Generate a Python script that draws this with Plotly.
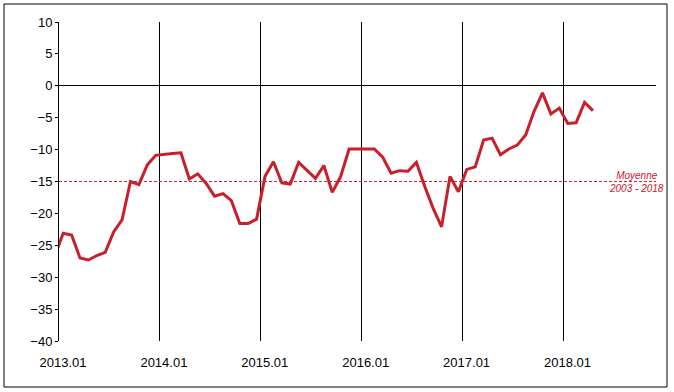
import plotly.graph_objects as go

# ---------------- data ----------------
months = ["2012.12"] + [f"{y}.{m:02d}" for y in range(2013, 2019) for m in range(1, 13)]
months = months[:months.index("2018.04") + 1]

values = [
    -26.7,                                                             # 2012.12
    -23.1, -23.4, -27.0, -27.3, -26.6, -26.1, -22.9, -21.0, -15.0, -15.5, -12.4, -10.9,  # 2013
    -10.7, -10.6, -10.5, -14.6, -13.8, -15.3, -17.3, -16.9, -18.0, -21.6, -21.6, -20.9,  # 2014
    -14.2, -11.9, -15.2, -15.4, -12.0, -13.2, -14.5, -12.5, -16.7, -14.2, -9.9, -9.9,    # 2015
    -9.9, -9.9, -11.2, -13.7, -13.3, -13.4, -12.0, -15.8, -19.2, -22.1, -14.2, -16.6,    # 2016
    -13.1, -12.7, -8.5, -8.2, -10.8, -9.9, -9.3, -7.7, -4.0, -1.1, -4.4, -3.5,          # 2017
    -5.9, -5.8, -2.6, -3.9,                                            # 2018
]

average = -15.0
average_label = "Moyenne<br>2003 - 2018"
year_ticks = ["2013.01", "2014.01", "2015.01", "2016.01", "2017.01", "2018.01"]
axis_first, axis_last = "2013.01", "2018.11"
y_ticks = [10, 5, 0, -5, -10, -15, -20, -25, -30, -35, -40]

# ---------------- positions on a category scale ----------------
origin = months.index(axis_first)
x_pos = [i - origin for i in range(len(months))]
n_axis = (int(axis_last[:4]) - int(axis_first[:4])) * 12 + int(axis_last[5:]) - int(axis_first[5:]) + 1
tick_bounds = [x_pos[months.index(t)] - 0.5 for t in year_ticks]

LINE_RED = "#C8202B"
DASH_RED = "#D8203C"
FONT = "Liberation Sans, Arial, sans-serif"

fig = go.Figure()
fig.add_trace(go.Scatter(
    x=x_pos, y=values, mode="lines",
    line=dict(color=LINE_RED, width=3),
    hoverinfo="skip", showlegend=False,
))

fig.add_shape(type="line", xref="x domain", yref="y", x0=0, x1=1, y0=average, y1=average,
              line=dict(color=DASH_RED, width=1.2, dash="3px,2px"), layer="above")

fig.add_annotation(text=average_label, xref="x domain", yref="y", x=0.968, y=average,
                   xanchor="center", yanchor="middle", showarrow=False,
                   font=dict(family=FONT, size=10, color=LINE_RED, style="italic"))

# chart-area border
fig.add_shape(type="rect", xref="paper", yref="paper",
              x0=-55 / 597, x1=608 / 597, y0=-46 / 319, y1=337 / 319,
              line=dict(color="black", width=1), fillcolor="rgba(0,0,0,0)")

fig.update_layout(
    width=674, height=392,
    margin=dict(l=59, r=18, t=22, b=51),
    paper_bgcolor="white", plot_bgcolor="white",
    font=dict(family=FONT, size=13, color="black"),
    showlegend=False,
)
fig.update_xaxes(
    range=[-0.5, n_axis - 0.5],
    tickmode="array", tickvals=tick_bounds, ticktext=year_ticks,
    ticklabelshift=4, ticklabelstandoff=12,
    ticks="", showgrid=True, gridcolor="black", gridwidth=1,
    showline=False, zeroline=False,
)
fig.update_yaxes(
    range=[-40, 10], tickmode="array", tickvals=y_ticks,
    ticks="outside", ticklen=3, tickcolor="black",
    showline=True, linecolor="black", linewidth=1,
    showgrid=False, zeroline=True, zerolinecolor="black", zerolinewidth=1,
)

fig.write_html("out.html")
